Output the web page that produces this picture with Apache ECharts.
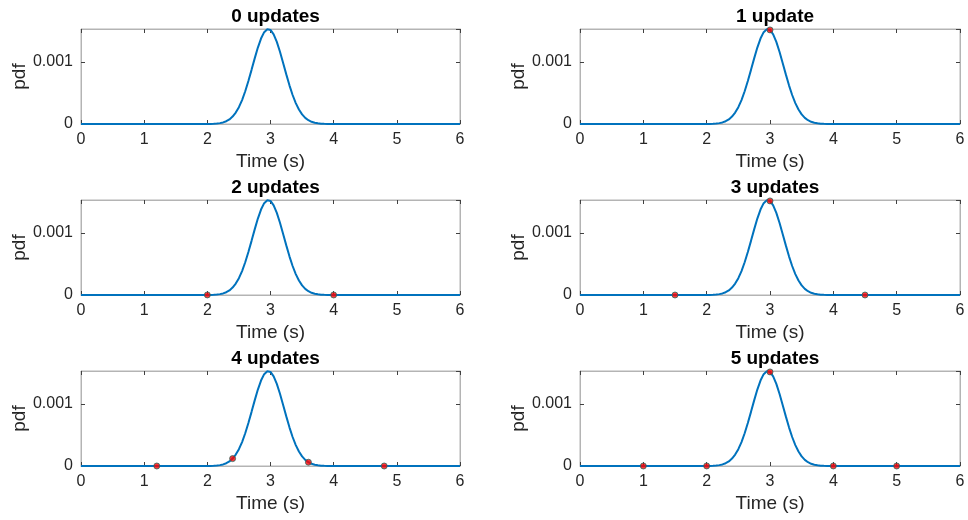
<!DOCTYPE html>
<html>
<head>
<meta charset="utf-8">
<title>pdf updates</title>
<script src="https://cdn.jsdelivr.net/npm/echarts@6/dist/echarts.min.js"></script>
<style>
  html, body { margin: 0; padding: 0; background: #fff; }
  #chart { width: 968px; height: 520px; }
</style>
</head>
<body>
<div id="chart"></div>
<script>
// Sampled probability density over time
const timeS = [0, 0.5, 1, 1.5, 1.8, 1.9,
  2.0, 2.05, 2.1, 2.15, 2.2, 2.25, 2.3, 2.35, 2.4, 2.45,
  2.5, 2.55, 2.6, 2.65, 2.7, 2.75, 2.8, 2.85, 2.9, 2.95,
  3.0, 3.05, 3.1, 3.15, 3.2, 3.25, 3.3, 3.35, 3.4, 3.45,
  3.5, 3.55, 3.6, 3.65, 3.7, 3.75, 3.8, 3.85, 3.9,
  4.0, 4.1, 4.5, 5, 5.5, 6];
const pdfVals = [0, 0, 0, 0, 0.00000003, 0.00000018,
  0.0000009, 0.0000019, 0.0000038, 0.0000075, 0.0000142, 0.0000256, 0.0000445, 0.0000742, 0.000119, 0.0001833,
  0.0002713, 0.0003857, 0.000527, 0.000692, 0.000872, 0.001057, 0.001231, 0.001376, 0.001479, 0.001527,
  0.001515, 0.001444, 0.001322, 0.001164, 0.000984, 0.000799, 0.000623, 0.000467, 0.000337, 0.000233,
  0.000155, 0.000099, 0.0000608, 0.0000358, 0.0000203, 0.0000111, 0.0000058, 0.0000029, 0.0000014,
  0.0000003, 0.00000005, 0, 0, 0, 0];

// Panel titles
const panelTitles = ['0 updates', '1 update', '2 updates', '3 updates', '4 updates', '5 updates'];

// Update points for each panel (time, pdf)
const updTimes = [[], [3], [2, 4], [1.5, 3, 4.5], [1.2, 2.4, 3.6, 4.8], [1, 2, 3, 4, 5]];
const updVals = [[], [0.001515], [0.0000009, 0.0000003], [0, 0.001515, 0],
  [0, 0.000119, 0.0000608, 0], [0, 0.0000009, 0.001515, 0.0000003, 0]];

// Axis ticks
const xTicks = { min: 0, max: 6, interval: 1 };
const yTicks = { min: 0, max: 0.00153, interval: 0.001 };

const lineColor = '#0072BD';
const textColor = '#262626';
const boxColor = '#b4b4b4';
const fontFamily = 'Liberation Sans, Arial, Helvetica, sans-serif';

const colLeft = [81, 580];
const colWidth = [379, 380];
const rowTop = [29, 200, 371];
const plotH = 95;
const tick = { show: true, inside: true, length: 4, lineStyle: { color: '#404040', width: 1 } };

const grid = [], xAxis = [], yAxis = [], series = [], title = [];

for (let i = 0; i < 6; i++) {
  const c = i % 2, r = Math.floor(i / 2);
  grid.push({
    left: colLeft[c], top: rowTop[r], width: colWidth[c], height: plotH,
    show: true, borderColor: boxColor, borderWidth: 1, backgroundColor: '#fff'
  });
  title.push({
    text: panelTitles[i],
    left: colLeft[c] + colWidth[c] / 2,
    top: rowTop[r] - 27,
    textAlign: 'center',
    textStyle: { fontFamily, fontSize: 19, fontWeight: 'bold', color: '#000' }
  });
  xAxis.push({
    type: 'value', gridIndex: i, position: 'bottom',
    min: xTicks.min, max: xTicks.max, interval: xTicks.interval,
    name: 'Time (s)', nameLocation: 'middle', nameGap: 28,
    nameTextStyle: { fontFamily, fontSize: 19, color: textColor },
    axisLine: { show: true, onZero: false, lineStyle: { color: boxColor, width: 1 } },
    axisTick: tick,
    axisLabel: { fontFamily, fontSize: 16, color: textColor, margin: 8 },
    splitLine: { show: false }
  });
  xAxis.push({
    type: 'value', gridIndex: i, position: 'top',
    min: xTicks.min, max: xTicks.max, interval: xTicks.interval,
    axisLine: { show: true, onZero: false, lineStyle: { color: boxColor, width: 1 } },
    axisTick: tick,
    axisLabel: { show: false },
    splitLine: { show: false }
  });
  yAxis.push({
    type: 'value', gridIndex: i, position: 'left',
    min: yTicks.min, max: yTicks.max, interval: yTicks.interval,
    name: 'pdf', nameLocation: 'middle', nameGap: 46,
    nameTextStyle: { fontFamily, fontSize: 19, color: textColor },
    axisLine: { show: true, onZero: false, lineStyle: { color: boxColor, width: 1 } },
    axisTick: tick,
    axisLabel: { fontFamily, fontSize: 16, color: textColor, margin: 8, showMaxLabel: false },
    splitLine: { show: false }
  });
  yAxis.push({
    type: 'value', gridIndex: i, position: 'right',
    min: yTicks.min, max: yTicks.max, interval: yTicks.interval,
    axisLine: { show: true, onZero: false, lineStyle: { color: boxColor, width: 1 } },
    axisTick: tick,
    axisLabel: { show: false },
    splitLine: { show: false }
  });
  series.push({
    type: 'line', xAxisIndex: 2 * i, yAxisIndex: 2 * i,
    data: timeS.map((t, k) => [t, pdfVals[k]]),
    showSymbol: false, symbol: 'none', clip: true,
    lineStyle: { color: lineColor, width: 2 }, z: 3
  });
  if (updTimes[i].length) {
    series.push({
      type: 'scatter', xAxisIndex: 2 * i, yAxisIndex: 2 * i,
      data: updTimes[i].map((t, k) => [t, updVals[i][k]]),
      symbol: 'circle', symbolSize: 6, clip: false,
      itemStyle: { color: '#ff0000', borderColor: '#2d6b63', borderWidth: 1 },
      z: 4
    });
  }
}

const chart = echarts.init(document.getElementById('chart'), null, { renderer: 'canvas' });
chart.setOption({
  animation: false,
  backgroundColor: '#fff',
  title, grid, xAxis, yAxis, series
});
</script>
</body>
</html>
